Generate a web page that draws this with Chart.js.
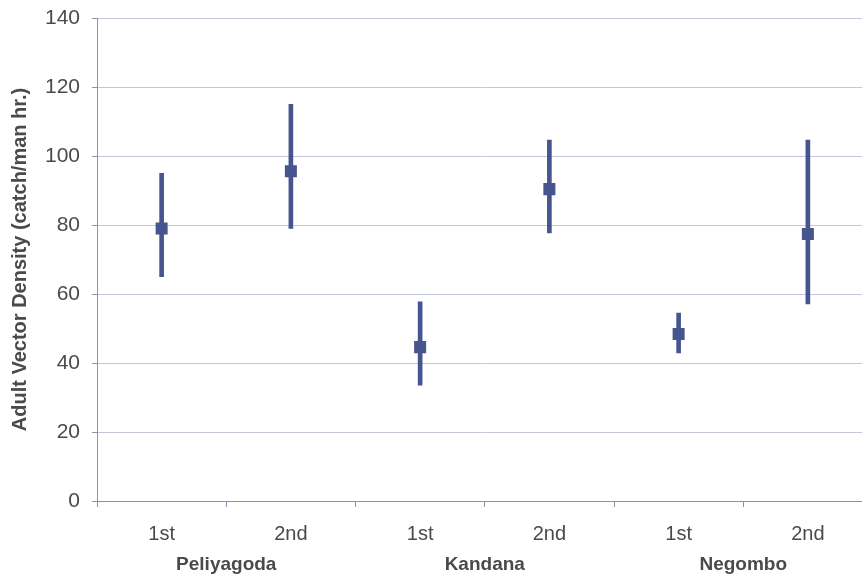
<!doctype html>
<html lang="en">
<head>
<meta charset="UTF-8">
<title>Adult Vector Density</title>
<script src="https://cdn.jsdelivr.net/npm/chart.js"></script>
<style>
    html, body { margin: 0; padding: 0; background: #fff; overflow: hidden; }
</style>
</head>
<body>
<canvas id="densityChart" width="881" height="579"></canvas>
<script>
    // values
    const rounds = ['1st', '2nd', '1st', '2nd', '1st', '2nd'];
    const sites = ['Peliyagoda', 'Kandana', 'Negombo'];
    const means = [79, 95.6, 44.6, 90.4, 48.4, 77.4];
    const lows = [65, 79, 33.6, 77.7, 42.9, 57.1];
    const highs = [95, 115, 57.7, 104.6, 54.5, 104.6];
    const yTicks = [0, 20, 40, 60, 80, 100, 120, 140];

    const markColor = '#47558f';
    const textColor = '#4a4a4a';
    const fontFamily = 'Liberation Sans, Arial';

    const ranges = lows.map((lo, i) => [lo, highs[i]]);

    const ctx = document.getElementById('densityChart').getContext('2d');
    new Chart(ctx, {
        type: 'bar',
        data: {
            labels: rounds,
            datasets: [{
                type: 'line',
                data: means,
                showLine: false,
                pointStyle: 'rect',
                pointRadius: 8.5,
                backgroundColor: markColor,
                borderColor: markColor,
                borderWidth: 0,
                order: 0
            }, {
                data: ranges,
                backgroundColor: markColor,
                borderWidth: 0,
                barThickness: 4,
                borderSkipped: false,
                order: 1
            }]
        },
        options: {
            responsive: false,
            animation: false,
            layout: { padding: { top: 18, left: 0, right: 0, bottom: 0 } },
            plugins: {
                legend: { display: false },
                tooltip: { enabled: false }
            },
            scales: {
                y: {
                    min: 0,
                    max: 140,
                    afterBuildTicks: axis => { axis.ticks = yTicks.map(v => ({ value: v })); },
                    afterFit: axis => {
                        axis.width = 97;
                        axis.paddingTop = 0;
                        axis.paddingBottom = 0;
                    },
                    grid: { color: '#c3c6df', lineWidth: 1, tickLength: 5, tickColor: '#8c8fae' },
                    border: { color: '#8c8fae' },
                    ticks: {
                        color: textColor,
                        padding: 12,
                        font: { family: fontFamily, size: 21 }
                    },
                    title: {
                        display: true,
                        text: 'Adult Vector Density (catch/man hr.)',
                        color: textColor,
                        padding: { top: 8, bottom: 0 },
                        font: { family: fontFamily, size: 20, weight: 'bold' }
                    }
                },
                x: {
                    afterFit: axis => { axis.height = 44; },
                    grid: { drawOnChartArea: false, tickLength: 6, color: '#8c8fae' },
                    border: { color: '#8c8fae' },
                    ticks: {
                        color: textColor,
                        padding: 15,
                        font: { family: fontFamily, size: 20 }
                    }
                },
                group: {
                    type: 'category',
                    position: 'bottom',
                    labels: sites,
                    afterFit: axis => { axis.height = 34; },
                    grid: { display: false },
                    border: { display: false },
                    ticks: {
                        color: textColor,
                        padding: 0,
                        font: { family: fontFamily, size: 19, weight: 'bold' }
                    }
                }
            }
        }
    });
</script>
</body>
</html>
